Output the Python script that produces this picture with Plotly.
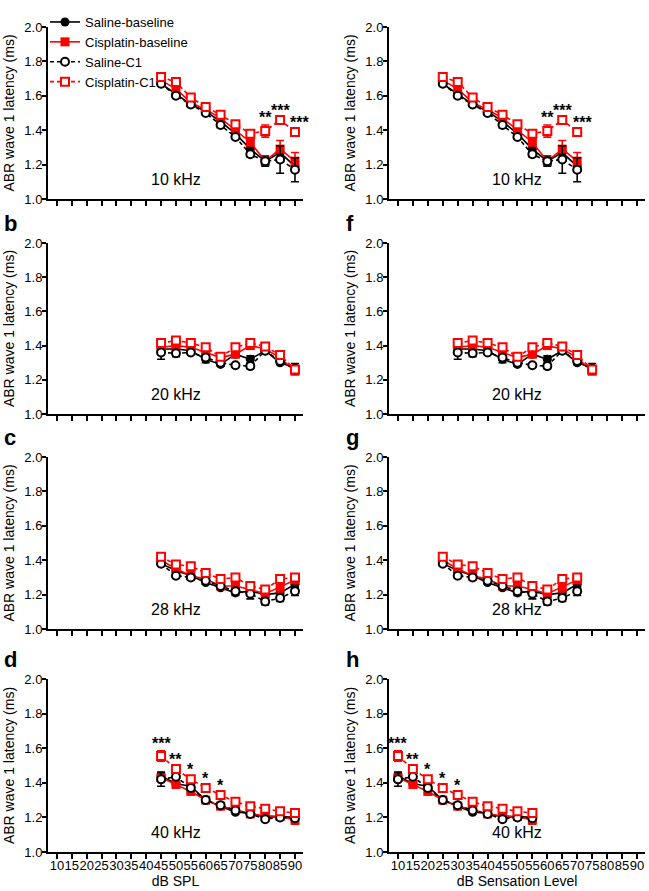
import plotly.graph_objects as go

# x positions (dB SPL for left column, dB sensation level for right column)
spl = [45, 50, 55, 60, 65, 70, 75, 80, 85, 90]
sl_10 = [25, 30, 35, 40, 45, 50, 55, 60, 65, 70]
sl_20 = [30, 35, 40, 45, 50, 55, 60, 65, 70, 75]
sl_28 = [25, 30, 35, 40, 45, 50, 55, 60, 65, 70]
sl_40 = [10, 15, 20, 25, 30, 35, 40, 45, 50, 55]

x_tickvals = [10, 15, 20, 25, 30, 35, 40, 45, 50, 55, 60, 65, 70, 75, 80, 85, 90]
x_ticktext = ["10", "15", "20", "25", "30", "35", "40", "45", "50", "55",
              "60", "65", "70", "75", "80", "85", "90"]
y_tickvals = [1.0, 1.2, 1.4, 1.6, 1.8, 2.0]

# 10 kHz
sal_base_10 = [1.67, 1.61, 1.55, 1.51, 1.45, 1.38, 1.29, 1.22, 1.27, 1.19]
cis_base_10 = [1.69, 1.64, 1.56, 1.52, 1.47, 1.40, 1.33, 1.22, 1.29, 1.22]
sal_c1_10 = [1.67, 1.60, 1.55, 1.50, 1.43, 1.36, 1.26, 1.22, 1.23, 1.17]
cis_c1_10 = [1.71, 1.68, 1.59, 1.535, 1.49, 1.435, 1.38, 1.395, 1.46, 1.39]
sal_base_10_err = [0.01, 0.01, 0.01, 0.01, 0.015, 0.01, 0.015, 0.03, 0.03, 0.02]
cis_base_10_err = [0.01, 0.01, 0.01, 0.01, 0.01, 0.01, 0.015, 0.02, 0.05, 0.05]
sal_c1_10_err = [0.01, 0.01, 0.01, 0.01, 0.015, 0.01, 0.015, 0.02, 0.08, 0.07]
cis_c1_10_err = [0.01, 0.01, 0.01, 0.01, 0.01, 0.01, 0.01, 0.035, 0.01, 0.01]
stars_10 = ["", "", "", "", "", "", "", "**", "***", "***"]

# 20 kHz
sal_base_20 = [1.38, 1.38, 1.37, 1.32, 1.29, 1.35, 1.32, 1.37, 1.30, 1.27]
cis_base_20 = [1.39, 1.40, 1.39, 1.36, 1.33, 1.35, 1.40, 1.38, 1.33, 1.25]
sal_c1_20 = [1.36, 1.355, 1.36, 1.33, 1.30, 1.285, 1.28, 1.37, 1.31, 1.26]
cis_c1_20 = [1.415, 1.43, 1.415, 1.39, 1.335, 1.39, 1.415, 1.395, 1.345, 1.26]
sal_base_20_err = [0.01, 0.01, 0.01, 0.02, 0.01, 0.02, 0.02, 0.01, 0.01, 0.025]
cis_base_20_err = [0.01, 0.01, 0.01, 0.01, 0.01, 0.015, 0.01, 0.01, 0.01, 0.015]
sal_c1_20_err = [0.04, 0.02, 0.01, 0.01, 0.01, 0.01, 0.015, 0.01, 0.01, 0.01]
cis_c1_20_err = [0.01, 0.02, 0.02, 0.01, 0.015, 0.015, 0.025, 0.01, 0.01, 0.015]
stars_20 = ["", "", "", "", "", "", "", "", "", ""]

# 28 kHz
sal_base_28 = [1.38, 1.34, 1.31, 1.27, 1.24, 1.21, 1.22, 1.20, 1.21, 1.26]
cis_base_28 = [1.40, 1.35, 1.31, 1.29, 1.25, 1.25, 1.23, 1.205, 1.245, 1.285]
sal_c1_28 = [1.38, 1.31, 1.30, 1.28, 1.25, 1.22, 1.205, 1.16, 1.18, 1.22]
cis_c1_28 = [1.42, 1.375, 1.365, 1.325, 1.29, 1.30, 1.25, 1.23, 1.29, 1.30]
sal_base_28_err = [0.01, 0.01, 0.01, 0.01, 0.01, 0.015, 0.01, 0.01, 0.015, 0.015]
cis_base_28_err = [0.01, 0.015, 0.025, 0.01, 0.015, 0.01, 0.01, 0.01, 0.03, 0.01]
sal_c1_28_err = [0.01, 0.01, 0.01, 0.01, 0.01, 0.01, 0.03, 0.02, 0.02, 0.025]
cis_c1_28_err = [0.01, 0.01, 0.01, 0.01, 0.01, 0.01, 0.01, 0.01, 0.025, 0.01]
stars_28 = ["", "", "", "", "", "", "", "", "", ""]

# 40 kHz
sal_base_40 = [1.44, 1.395, 1.38, 1.30, 1.265, 1.23, 1.225, 1.20, 1.205, 1.20]
cis_base_40 = [1.43, 1.39, 1.35, 1.30, 1.265, 1.245, 1.22, 1.21, 1.205, 1.185]
sal_c1_40 = [1.42, 1.435, 1.37, 1.30, 1.27, 1.24, 1.22, 1.19, 1.20, 1.195]
cis_c1_40 = [1.555, 1.48, 1.42, 1.37, 1.33, 1.29, 1.265, 1.25, 1.235, 1.225]
sal_base_40_err = [0.02, 0.01, 0.01, 0.01, 0.01, 0.01, 0.01, 0.01, 0.01, 0.01]
cis_base_40_err = [0.015, 0.01, 0.01, 0.01, 0.01, 0.01, 0.01, 0.01, 0.01, 0.025]
sal_c1_40_err = [0.04, 0.01, 0.01, 0.01, 0.01, 0.01, 0.01, 0.01, 0.01, 0.01]
cis_c1_40_err = [0.03, 0.01, 0.01, 0.01, 0.01, 0.01, 0.01, 0.01, 0.01, 0.01]
stars_40 = ["***", "**", "*", "*", "*", "", "", "", "", ""]

freq_labels = ["10 kHz", "20 kHz", "28 kHz", "40 kHz"]
panel_letters = [("", ""), ("b", "f"), ("c", "g"), ("d", "h")]

rows = [
    (sl_10, [sal_base_10, cis_base_10, sal_c1_10, cis_c1_10],
     [sal_base_10_err, cis_base_10_err, sal_c1_10_err, cis_c1_10_err], stars_10),
    (sl_20, [sal_base_20, cis_base_20, sal_c1_20, cis_c1_20],
     [sal_base_20_err, cis_base_20_err, sal_c1_20_err, cis_c1_20_err], stars_20),
    (sl_28, [sal_base_28, cis_base_28, sal_c1_28, cis_c1_28],
     [sal_base_28_err, cis_base_28_err, sal_c1_28_err, cis_c1_28_err], stars_28),
    (sl_40, [sal_base_40, cis_base_40, sal_c1_40, cis_c1_40],
     [sal_base_40_err, cis_base_40_err, sal_c1_40_err, cis_c1_40_err], stars_40),
]

RED = "#ff0000"
series_style = [
    ("Saline-baseline", "black", "circle", "solid", True),
    ("Cisplatin-baseline", RED, "square", "solid", True),
    ("Saline-C1", "black", "circle", "4px,3px", False),
    ("Cisplatin-C1", RED, "square", "4px,3px", False),
]

W, H = 649, 891
FONT = "Liberation Sans, Arial, sans-serif"
# pixel boxes of the plot areas (top, bottom) and (left, right)
row_px = [(27, 199), (243, 414), (457, 629), (679, 852)]
col_px = [(48, 303), (389, 645)]

fig = go.Figure()
layout = {}
annotations = []

for r, (sl_x, means, errs, stars) in enumerate(rows):
    for c in range(2):
        n = r * 2 + c + 1
        xs = spl if c == 0 else sl_x
        xa = "x" if n == 1 else f"x{n}"
        ya = "y" if n == 1 else f"y{n}"
        for s, (name, color, sym, dash, filled) in enumerate(series_style):
            fig.add_trace(go.Scatter(
                x=xs, y=means[s], name=name, xaxis=xa, yaxis=ya,
                mode="lines+markers",
                showlegend=(n == 1),
                line=dict(color=color, width=1.6, dash=dash),
                marker=dict(symbol=sym, size=9 if filled else 8,
                            color=color if filled else "white",
                            line=dict(color=color, width=0 if filled else 2)),
                error_y=dict(type="data", array=errs[s], color=color,
                             thickness=1.6, width=4),
            ))
        # significance stars above Cisplatin-C1
        for i, st in enumerate(stars):
            if st:
                annotations.append(dict(
                    x=xs[i], y=means[3][i] + errs[3][i] + 0.045,
                    xref=xa, yref=ya, text=f"<b>{st}</b>", showarrow=False,
                    xshift=5 if i == len(stars) - 1 else 0,
                    yanchor="middle", font=dict(size=16, color="black", family=FONT)))
        annotations.append(dict(
            x=0.5, y=1.115, xref=f"{xa} domain", yref=ya, text=freq_labels[r],
            showarrow=False, font=dict(size=16, color="black", family=FONT)))

        top, bot = row_px[r]
        left, right = col_px[c]
        xkey = "xaxis" if n == 1 else f"xaxis{n}"
        ykey = "yaxis" if n == 1 else f"yaxis{n}"
        layout[xkey] = dict(
            domain=[left / W, right / W], anchor=ya, range=[7, 92.7],
            tickvals=x_tickvals, ticktext=x_ticktext, tickangle=0,
            showticklabels=(r == 3), ticks="outside", ticklen=5, tickwidth=1.5,
            tickcolor="black", showline=True, linewidth=2, linecolor="black",
            showgrid=False, zeroline=False, automargin=False,
            ticklabelstandoff=-5,
            tickfont=dict(size=13, color="black", family=FONT),
            title=dict(text=("dB SPL" if c == 0 else "dB Sensation Level") if r == 3 else "",
                       font=dict(size=14, color="black", family=FONT), standoff=4),
        )
        layout[ykey] = dict(
            domain=[1 - bot / H, 1 - top / H], anchor=xa, range=[1.0, 2.0],
            tickvals=y_tickvals, tickformat=".1f", ticks="outside", ticklen=4,
            tickwidth=1.5, tickcolor="black", showline=True, linewidth=2,
            linecolor="black", showgrid=False, zeroline=False, automargin=False,
            ticklabelstandoff=-3,
            tickfont=dict(size=13, color="black", family=FONT),
            title=dict(text="ABR wave 1 latency (ms)",
                       font=dict(size=14, color="black", family=FONT), standoff=6),
        )
        letter = panel_letters[r][c]
        if letter:
            annotations.append(dict(
                x=(2 if c == 0 else 344) / W, y=1 - (top - 5) / H, xref="paper", yref="paper",
                xanchor="left", yanchor="bottom", text=f"<b>{letter}</b>", showarrow=False,
                font=dict(size=22, color="black", family=FONT)))

fig.update_layout(
    width=W, height=H,
    margin=dict(l=0, r=0, t=0, b=0),
    paper_bgcolor="white", plot_bgcolor="white",
    font=dict(family=FONT, color="black"),
    showlegend=True,
    legend=dict(x=45 / W, y=1 - 7 / H, xanchor="left", yanchor="top",
                bgcolor="rgba(0,0,0,0)", font=dict(size=13, color="black", family=FONT),
                tracegroupgap=0, itemwidth=30),
    annotations=annotations,
    **layout,
)

# drop the browser's default 8px body margin so the figure sits at the page corner
fig.write_html("out.html", config={"displayModeBar": False},
               post_script="document.body.style.margin='0';document.body.style.padding='0';")
